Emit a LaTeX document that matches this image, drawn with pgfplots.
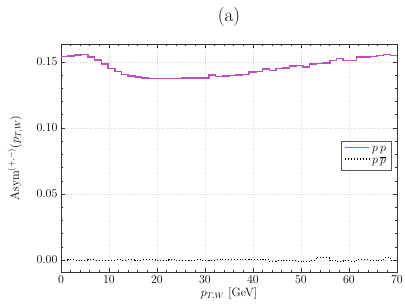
\documentclass[border=0pt]{standalone}
\usepackage{pgfplots}
\pgfplotsset{compat=1.18}
\definecolor{pcol}{RGB}{188,80,188}
\definecolor{gridc}{RGB}{215,215,215}
\begin{document}
\begin{tikzpicture}
\begin{axis}[
  at={(0,0)}, anchor=south west,
  width=336pt, height=228pt, scale only axis,
  xmin=0, xmax=70, ymin=-0.009, ymax=0.1636,
  xtick={0,10,...,70},
  ytick={0,0.05,0.10,0.15},
  yticklabel style={/pgf/number format/fixed,/pgf/number format/fixed zerofill,/pgf/number format/precision=2},
  scaled y ticks=false,
  minor x tick num=4, minor y tick num=4,
  tick align=inside, xtick pos=both, ytick pos=both,
  major tick length=4pt, minor tick length=2pt,
  grid=major, major grid style={gridc, dotted, line width=0.6pt},
  axis line style={line width=0.8pt, black!80},
  tick style={black!80, line width=0.6pt},
  ticklabel style={font=\fontsize{12}{14}\selectfont},
  xlabel={$p_{T,W}$ [GeV]},
  ylabel={$\mathrm{Asym}^{(+,-)}(p_{T,W})$},
  label style={font=\fontsize{12}{14}\selectfont},
  xlabel style={at={(axis description cs:0.5,0)}, anchor=north, yshift=-12pt},
  ylabel style={at={(axis description cs:-0.137,0.5)}, anchor=center},
  title={(a)},
  title style={font=\fontsize{19}{22}\selectfont, at={(axis description cs:0.5,1)}, anchor=south, yshift=8pt},
  legend style={at={(axis cs:68.8,0.0902)}, anchor=north east, draw=black!65, font=\fontsize{12}{14}\selectfont, inner sep=3pt, row sep=0pt},
  legend image code/.code={\draw[#1, line width=1.6pt] (0cm,0.5ex) -- (0.85cm,0.5ex);},
  legend cell align=left,
]
\addplot[const plot, pcol, line width=1.5pt] coordinates {
(0,0.1540) (1.4,0.1545) (2.8,0.1551) (4.2,0.1555) (5.6,0.1538) (7.0,0.1513) (8.4,0.1483) (9.8,0.1452) (11.2,0.1427) (12.6,0.1404)
(14.0,0.1394) (15.4,0.1386) (16.8,0.1379) (18.2,0.1374) (19.6,0.1373) (21.0,0.1373) (22.4,0.1374) (23.8,0.1375) (25.2,0.1377) (26.6,0.1378)
(28.0,0.1379) (29.4,0.1380) (30.8,0.1400) (32.2,0.1390) (33.6,0.1395) (35.0,0.1398) (36.4,0.1400) (37.8,0.1405) (39.2,0.1425) (40.6,0.1428)
(42.0,0.1445) (43.4,0.1434) (44.8,0.1450) (46.2,0.1455) (47.6,0.1470) (49.0,0.1472) (50.4,0.1462) (51.8,0.1485) (53.2,0.1488) (54.6,0.1492)
(56.0,0.1510) (57.4,0.1528) (58.8,0.1510) (60.2,0.1510) (61.6,0.1538) (63.0,0.1538) (64.4,0.1540) (65.8,0.1548) (67.2,0.1555) (68.6,0.1550)
(70.0,0.1550)
};
\addlegendentry{$p\,p$}
\addplot[const plot, black, dotted, line width=1.0pt] coordinates {
(0,0.0000) (1.4,0.0001) (2.8,-0.0001) (4.2,0.0000) (5.6,0.0001) (7.0,0.0000) (8.4,-0.0001) (9.8,0.0000) (11.2,0.0002) (12.6,0.0000)
(14.0,0.0001) (15.4,0.0000) (16.8,0.0002) (18.2,0.0004) (19.6,0.0000) (21.0,-0.0002) (22.4,0.0003) (23.8,-0.0003) (25.2,-0.0002) (26.6,0.0000)
(28.0,0.0001) (29.4,-0.0002) (30.8,0.0000) (32.2,0.0003) (33.6,0.0006) (35.0,0.0002) (36.4,0.0004) (37.8,0.0003) (39.2,0.0005) (40.6,0.0008)
(42.0,0.0004) (43.4,-0.0010) (44.8,-0.0003) (46.2,-0.0005) (47.6,-0.0004) (49.0,-0.0008) (50.4,-0.0010) (51.8,-0.0002) (53.2,0.0020) (54.6,0.0018)
(56.0,-0.0003) (57.4,-0.0012) (58.8,-0.0006) (60.2,-0.0008) (61.6,0.0004) (63.0,0.0002) (64.4,-0.0002) (65.8,-0.0005) (67.2,0.0016) (68.6,-0.0004)
(70.0,-0.0004)
};
\addlegendentry{$p\,\overline{p}$}
\end{axis}
\pgfresetboundingbox
\path[use as bounding box] (-61pt,-32pt) rectangle (344pt,272pt);
\end{tikzpicture}
\end{document}
